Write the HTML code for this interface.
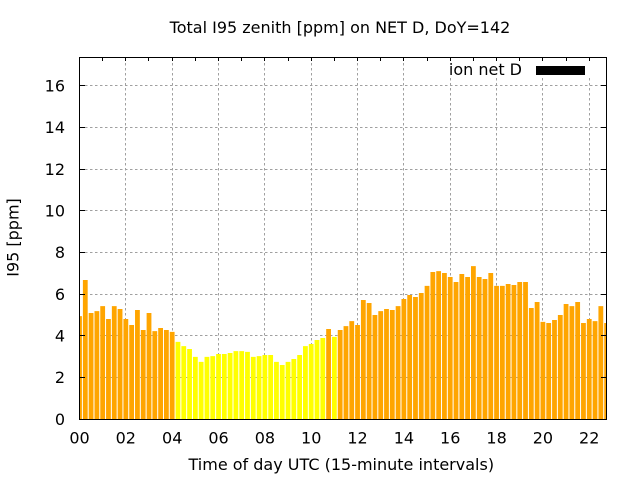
<!DOCTYPE html>
<html>
<head>
<meta charset="utf-8">
<style>
html,body{margin:0;padding:0;background:#fff;}
svg{display:block;}
text{font-family:"DejaVu Sans","Liberation Sans",sans-serif;font-size:16px;fill:#000;}
</style>
</head>
<body>
<svg width="640" height="480" viewBox="0 0 640 480" xmlns="http://www.w3.org/2000/svg">
<defs>
<clipPath id="pa"><rect x="79.5" y="57.5" width="527" height="362"/></clipPath>
</defs>
<rect x="0" y="0" width="640" height="480" fill="#fff"/>
<path fill="none" stroke="#a0a0a0" stroke-width="1" stroke-dasharray="2.5,2.5" d="M80 377.5H606M80 335.5H606M80 294.5H606M80 252.5H606M80 210.5H606M80 169.5H606M80 127.5H606M80 85.5H606M125.5 58V419M172.5 58V419M218.5 58V419M264.5 58V419M311.5 58V419M357.5 58V419M403.5 58V419M450.5 58V419M496.5 58V419M542.5 58V419M589.5 58V419"/>
<g clip-path="url(#pa)">
<path fill="#ffa500" d="M77.10 419V316.10h4.8V419z M82.89 419V280.06h4.8V419z M88.69 419V312.98h4.8V419z M94.48 419V311.10h4.8V419z M100.27 419V306.10h4.8V419z M106.06 419V319.02h4.8V419z M111.86 419V306.10h4.8V419z M117.65 419V309.02h4.8V419z M123.44 419V319.02h4.8V419z M129.23 419V325.06h4.8V419z M135.03 419V310.06h4.8V419z M140.82 419V330.06h4.8V419z M146.61 419V312.98h4.8V419z M152.40 419V331.10h4.8V419z M158.20 419V327.97h4.8V419z M163.99 419V330.06h4.8V419z M169.78 419V331.93h4.8V419z M326.18 419V329.01h4.8V419z M337.76 419V330.06h4.8V419z M343.56 419V326.10h4.8V419z M349.35 419V321.10h4.8V419z M355.14 419V325.06h4.8V419z M360.93 419V300.06h4.8V419z M366.73 419V302.98h4.8V419z M372.52 419V315.06h4.8V419z M378.31 419V311.10h4.8V419z M384.10 419V309.02h4.8V419z M389.90 419V310.06h4.8V419z M395.69 419V306.10h4.8V419z M401.48 419V299.02h4.8V419z M407.27 419V295.06h4.8V419z M413.07 419V296.94h4.8V419z M418.86 419V292.98h4.8V419z M424.65 419V285.90h4.8V419z M430.44 419V271.94h4.8V419z M436.24 419V271.11h4.8V419z M442.03 419V272.98h4.8V419z M447.82 419V276.94h4.8V419z M453.61 419V281.94h4.8V419z M459.41 419V274.02h4.8V419z M465.20 419V276.94h4.8V419z M470.99 419V266.11h4.8V419z M476.78 419V276.94h4.8V419z M482.58 419V279.02h4.8V419z M488.37 419V272.98h4.8V419z M494.16 419V285.90h4.8V419z M499.95 419V285.90h4.8V419z M505.75 419V284.02h4.8V419z M511.54 419V285.06h4.8V419z M517.33 419V281.94h4.8V419z M523.12 419V281.94h4.8V419z M528.92 419V307.98h4.8V419z M534.71 419V301.94h4.8V419z M540.50 419V321.93h4.8V419z M546.29 419V322.97h4.8V419z M552.09 419V320.06h4.8V419z M557.88 419V315.06h4.8V419z M563.67 419V304.02h4.8V419z M569.46 419V306.10h4.8V419z M575.26 419V301.94h4.8V419z M581.05 419V322.97h4.8V419z M586.84 419V319.02h4.8V419z M592.63 419V321.10h4.8V419z M598.43 419V306.10h4.8V419z M604.22 419V322.97h4.8V419z"/>
<path fill="#ffff00" d="M175.57 419V341.93h4.8V419z M181.37 419V346.09h4.8V419z M187.16 419V349.01h4.8V419z M192.95 419V356.93h4.8V419z M198.74 419V361.93h4.8V419z M204.54 419V356.93h4.8V419z M210.33 419V356.09h4.8V419z M216.12 419V354.01h4.8V419z M221.91 419V354.01h4.8V419z M227.71 419V352.97h4.8V419z M233.50 419V351.09h4.8V419z M239.29 419V351.09h4.8V419z M245.08 419V351.93h4.8V419z M250.88 419V356.93h4.8V419z M256.67 419V356.09h4.8V419z M262.46 419V355.05h4.8V419z M268.25 419V355.05h4.8V419z M274.05 419V361.93h4.8V419z M279.84 419V365.05h4.8V419z M285.63 419V361.93h4.8V419z M291.42 419V359.01h4.8V419z M297.22 419V355.05h4.8V419z M303.01 419V346.09h4.8V419z M308.80 419V344.01h4.8V419z M314.59 419V340.05h4.8V419z M320.39 419V337.97h4.8V419z M331.97 419V336.93h4.8V419z"/>
</g>
<rect x="441" y="58" width="165" height="20" fill="#fff"/>
<text x="522" y="75" text-anchor="end">ion net D</text>
<rect x="536" y="66" width="49" height="9" fill="#000"/>
<rect x="79.5" y="57.5" width="527" height="362" fill="none" stroke="#000" stroke-width="1"/>
<path fill="none" stroke="#000" stroke-width="1" d="M80 377.5h5M601 377.5h5M80 335.5h5M601 335.5h5M80 294.5h5M601 294.5h5M80 252.5h5M601 252.5h5M80 210.5h5M601 210.5h5M80 169.5h5M601 169.5h5M80 127.5h5M601 127.5h5M80 85.5h5M601 85.5h5M102.5 58v3M125.5 58v3M148.5 58v3M172.5 58v3M195.5 58v3M218.5 58v3M241.5 58v3M264.5 58v3M288.5 58v3M311.5 58v3M334.5 58v3M357.5 58v3M380.5 58v3M403.5 58v3M427.5 58v3M450.5 58v3M473.5 58v3M496.5 58v3M519.5 58v3M542.5 58v3M566.5 58v3M589.5 58v3"/>
<g text-anchor="end">
<text x="65" y="424.8">0</text>
<text x="65" y="383.1">2</text>
<text x="65" y="341.5">4</text>
<text x="65" y="299.8">6</text>
<text x="65" y="258.2">8</text>
<text x="65" y="216.5">10</text>
<text x="65" y="174.8">12</text>
<text x="65" y="133.2">14</text>
<text x="65" y="91.5">16</text>
</g>
<g text-anchor="middle">
<text x="79.5" y="443.5">00</text>
<text x="125.8" y="443.5">02</text>
<text x="172.2" y="443.5">04</text>
<text x="218.5" y="443.5">06</text>
<text x="264.9" y="443.5">08</text>
<text x="311.2" y="443.5">10</text>
<text x="357.5" y="443.5">12</text>
<text x="403.9" y="443.5">14</text>
<text x="450.2" y="443.5">16</text>
<text x="496.6" y="443.5">18</text>
<text x="542.9" y="443.5">20</text>
<text x="589.2" y="443.5">22</text>
</g>
<text x="340" y="33" text-anchor="middle">Total I95 zenith [ppm] on NET D, DoY=142</text>
<text x="341.3" y="470" text-anchor="middle">Time of day UTC (15-minute intervals)</text>
<text transform="translate(18.5,237.5) rotate(-90)" text-anchor="middle">I95 [ppm]</text>
</svg>
</body>
</html>
